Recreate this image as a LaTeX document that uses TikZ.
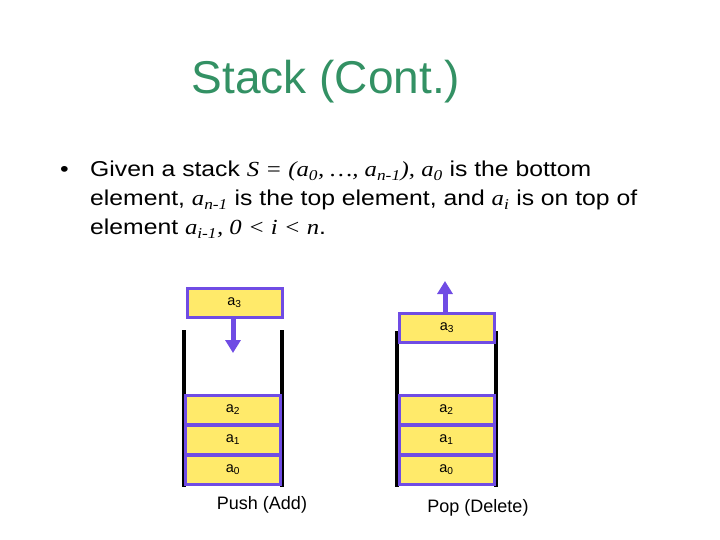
\documentclass[tikz,border=0pt]{standalone}
\usepackage{fontspec}
\setmainfont{Liberation Sans}
\newfontfamily\bodyfont[FakeStretch=1.15]{Liberation Sans}
\newfontfamily\tmfont[FakeStretch=1.15]{Liberation Serif}
\usetikzlibrary{arrows.meta}
\definecolor{titlegreen}{RGB}{51,145,100}
\definecolor{boxpurple}{RGB}{112,76,228}
\definecolor{boxyellow}{RGB}{255,234,106}
\newcommand\mi[1]{{\tmfont\itshape #1}}
\newcommand\sbs[1]{\textsubscript{#1}}
\begin{document}
\begin{tikzpicture}[x=1pt,y=-1pt,
  elem/.style={draw=boxpurple, fill=boxyellow, line width=3pt, minimum width=95pt, minimum height=29pt, inner sep=0pt, font=\fontsize{14.5}{16}\selectfont},
  wall/.style={line width=4pt, black},
  mv/.style={boxpurple, line width=5pt, -{Triangle[width=15pt,length=13pt]}},
  body/.style={anchor=base west, inner sep=0pt, font=\bodyfont\fontsize{21.5}{26}\selectfont},
  lbl/.style={font=\fontsize{18}{22}\selectfont, inner sep=0pt}]
\useasboundingbox (0,0) rectangle (720,540);
\node[titlegreen, font=\fontsize{46}{52}\selectfont, inner sep=0pt] (title) at (326,82) {Stack (Cont.)};
\node[body] (bul) at (60,177) {\textbullet};
\node[body] (l1) at (90,177) {Given a stack \mi{S = (a\sbs{0}, \dots, a\sbs{n-1}), a\sbs{0}} is the bottom};
\node[body] (l2) at (90,206) {element, \mi{a\sbs{n-1}} is the top element, and \mi{a\sbs{i}} is on top of};
\node[body] (l3) at (90,235) {element \mi{a\sbs{i-1}, 0 < i < n}.};
% push stack
\draw[wall] (184,330) -- (184,487);
\draw[wall] (282,330) -- (282,487);
\node[elem] (pa0) at (233,470) {a\sbs{0}};
\node[elem] (pa1) at (233,440) {a\sbs{1}};
\node[elem] (pa2) at (233,410) {a\sbs{2}};
\node[elem] (pa3) at (234.5,303) {a\sbs{3}};
\coordinate (ptip) at (233,353);
\draw[mv] (pa3.south -| ptip) -- (ptip);
\node[lbl] (push) at (262,505) {Push (Add)};
% pop stack
\draw[wall] (397,331) -- (397,487);
\draw[wall] (496,331) -- (496,487);
\node[elem] (qa0) at (446.5,470) {a\sbs{0}};
\node[elem] (qa1) at (446.5,440) {a\sbs{1}};
\node[elem] (qa2) at (446.5,410) {a\sbs{2}};
\node[elem] (qa3) at (447,328) {a\sbs{3}};
\coordinate (qtip) at (445,281);
\draw[mv] (qa3.north -| qtip) -- (qtip);
\node[lbl] (pop) at (478,508) {Pop (Delete)};
\end{tikzpicture}
\end{document}
